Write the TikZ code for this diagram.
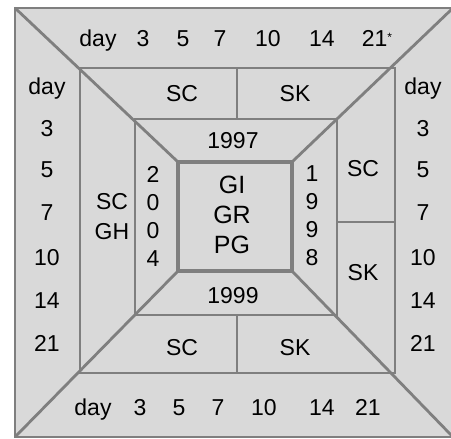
\documentclass[tikz,border=0pt]{standalone}
\usepackage{fontspec}
\setmainfont{Liberation Sans}
\usepackage{tikz}
\definecolor{panel}{HTML}{D9D9D9}
\definecolor{rule}{HTML}{7F7F7F}

\begin{document}
\begin{tikzpicture}[
    x=1pt, y=-1pt,
    thin rule/.style={draw=rule, line width=1.4pt},
    thick rule/.style={draw=rule, line width=2.8pt},
    lbl/.style={inner sep=0pt, text height=16pt, text depth=0pt, font=\fontsize{23}{27}\selectfont},
    stack/.style={inner sep=0pt, align=center, font=\fontsize{23}{30}\selectfont}
]
    \useasboundingbox (0,0) rectangle (451,439);

    % corners of the four squares
    \coordinate (o1) at (15,8);    \coordinate (o2) at (453,8);
    \coordinate (o3) at (453,437); \coordinate (o4) at (15,437);
    \coordinate (m1) at (80,68);   \coordinate (m2) at (395,68);
    \coordinate (m3) at (395,373); \coordinate (m4) at (80,373);
    \coordinate (n1) at (135,119); \coordinate (n2) at (337,119);
    \coordinate (n3) at (337,315); \coordinate (n4) at (135,315);
    \coordinate (c1) at (178,162); \coordinate (c2) at (292,162);
    \coordinate (c3) at (292,271); \coordinate (c4) at (178,271);

    \fill[panel] (o1) rectangle (o3);
    \draw[thin rule] (m1) rectangle (m3);
    \draw[thin rule] (n1) rectangle (n3);
    % dividers
    \draw[thin rule] (237,68) -- (237,119);
    \draw[thin rule] (237,315) -- (237,373);
    \draw[thin rule] (337,222) -- (395,222);
    % diagonals
    \draw[thick rule] (o1) -- (c1);
    \draw[thick rule] (o2) -- (c2);
    \draw[thick rule] (o3) -- (c3);
    \draw[thick rule] (o4) -- (c4);
    \draw[thick rule] (o1) rectangle (o3);
    \draw[thick rule, line width=3.4pt] (c1) rectangle (c3);

    % day scales
    \foreach \t/\x [count=\i] in {day/98, 3/143, 5/183, 7/220, 10/268, 14/322}
        \node[lbl] (top-\i) at (\x,38) {\t};
    \node[lbl] (top-7) at (377,38) {21\raisebox{5pt}{\fontsize{12}{12}\selectfont*}};
    \foreach \t/\x [count=\i] in {day/93, 3/140, 5/179, 7/218, 10/264, 14/322, 21/368}
        \node[lbl] (bot-\i) at (\x,407) {\t};
    \foreach \t/\y [count=\i] in {day/87, 3/128, 5/169, 7/212, 10/257, 14/300, 21/343} {
        \node[lbl] (left-\i) at (47,\y) {\t};
        \node[lbl] (right-\i) at (423,\y) {\t};
    }

    % bands
    \node[lbl] (sc-top) at (182,94) {SC};
    \node[lbl] (sk-top) at (295,94) {SK};
    \node[lbl] (sc-bot) at (182,347) {SC};
    \node[lbl] (sk-bot) at (295,347) {SK};
    \node[lbl] (sc-right) at (363,168) {SC};
    \node[lbl] (sk-right) at (363,272) {SK};
    \node[stack] (scgh) at (112,217) {SC\\GH};

    % years
    \node[lbl] (y1997) at (233,140) {1997};
    \node[lbl] (y1999) at (233,295) {1999};
    \node[stack, font=\fontsize{23}{28}\selectfont] (y2004) at (153,216) {2\\0\\0\\4};
    \node[stack, font=\fontsize{23}{28}\selectfont] (y1998) at (312,216) {1\\9\\9\\8};

    \node[stack, font=\fontsize{25}{30}\selectfont] (core) at (232,215) {GI\\GR\\PG};
\end{tikzpicture}
\end{document}
